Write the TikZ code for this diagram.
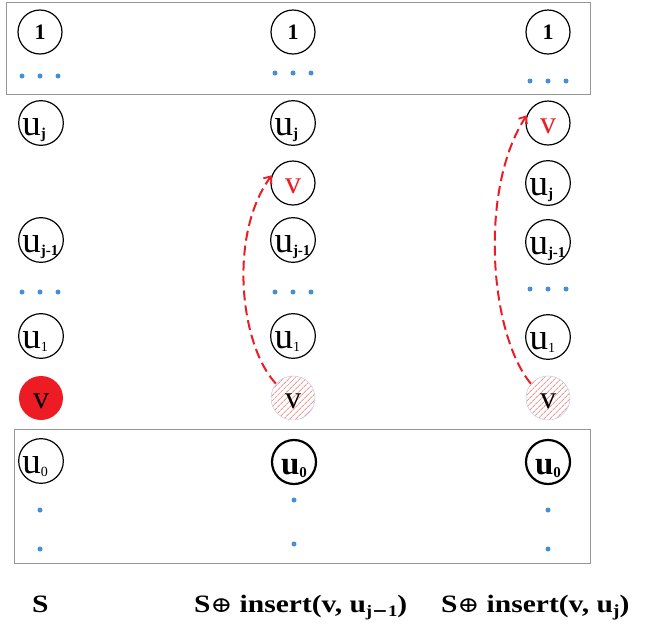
\documentclass[tikz,border=0pt]{standalone}
\usepackage{graphicx}
\usepackage{fontspec}
\setmainfont{Liberation Serif}
\newfontfamily\symfont{DejaVu Serif}
\usetikzlibrary{arrows.meta,patterns.meta}

\definecolor{boxgray}{RGB}{150,150,150}
\definecolor{dotblue}{RGB}{72,142,214}
\definecolor{vred}{RGB}{237,28,36}
\definecolor{hatchpink}{RGB}{245,150,150}
\definecolor{hatchrim}{RGB}{200,210,230}

% vertex labels: big u with a small subscript
\newcommand{\uname}[1]{\makebox[37pt][l]{{\fontsize{37}{37}\selectfont u}\raisebox{-3pt}{\fontsize{15}{15}\selectfont\bfseries #1}}}
\newcommand{\ulight}[1]{\makebox[37pt][l]{{\fontsize{37}{37}\selectfont u}\raisebox{-3pt}{\fontsize{14}{14}\selectfont #1}}}
\newcommand{\ubold}[1]{{\fontsize{33}{33}\selectfont\bfseries u}\raisebox{-3pt}{\fontsize{15}{15}\selectfont\bfseries #1}}
\newcommand{\vname}{{\fontsize{32}{32}\selectfont v}}
\newcommand{\onename}{{\fontsize{22}{22}\selectfont\bfseries 1}}
% caption text, set a little wider than the font's natural shape
\newcommand{\captext}[1]{\scalebox{1.18}[1]{#1}}

\tikzset{
  vtx/.style={circle, draw=black, line width=1.2pt, minimum size=44pt, inner sep=0pt},
  utext/.style={text height=25pt, text depth=0pt},
  vtext/.style={text height=21pt, text depth=0pt},
  vtxbold/.style={vtx, line width=2.2pt},
  vtxfilled/.style={circle, fill=vred, minimum size=44pt, inner sep=0pt},
  vtxhatch/.style={circle, draw=hatchrim, line width=0.6pt, minimum size=44pt, inner sep=0pt,
    pattern={Lines[angle=45, distance=4pt, line width=1pt]}, pattern color=hatchpink},
  frame/.style={draw=boxgray, line width=1pt},
  bdot/.style={circle, fill=dotblue, minimum size=5pt, inner sep=0pt},
  move/.style={draw=vred, line width=2pt, dash pattern=on 10pt off 5pt,
    -{Straight Barb[length=6pt, width=10pt, line width=1.8pt]}},
  caption/.style={anchor=base west, font=\fontsize{25}{25}\selectfont\bfseries, inner sep=0pt}
}

\begin{document}
\begin{tikzpicture}[x=1pt, y=-1pt]
\useasboundingbox (0,0) rectangle (646,625);

% frames around the top and bottom parts
\draw[frame] (6,2) rectangle (590,94);
\draw[frame] (14,429) rectangle (590,563);

% ---- column S ----
\node[vtx] (a1) at (40,32) {\onename};
\node[vtx, utext] (auj) at (41,123) {\uname{j}};
\node[vtx, utext] (aujm) at (41,240) {\uname{j-1}};
\node[vtx, utext] (au1) at (41,336) {\ulight{1}};
\node[vtxfilled, vtext] (av) at (41,398) {\vname};
\node[vtx, utext] (au0) at (41,461) {\ulight{0}};

% ---- column S + insert(v, u_{j-1}) ----
\node[vtx] (b1) at (293,32) {\onename};
\node[vtx, utext] (buj) at (293,123) {\uname{j}};
\node[vtx, vtext] (bvt) at (293,183) {\textcolor{vred}{\vname}};
\node[vtx, utext] (bujm) at (293,240) {\uname{j-1}};
\node[vtx, utext] (bu1) at (293,336) {\ulight{1}};
\node[vtxhatch, vtext] (bvb) at (293,398) {\vname};
\node[vtxbold, utext] (bu0) at (294,462) {\ubold{0}};

% ---- column S + insert(v, u_j) ----
\node[vtx] (c1) at (548,32) {\onename};
\node[vtx, vtext] (cvt) at (548,123) {\textcolor{vred}{\vname}};
\node[vtx, utext] (cuj) at (548,183) {\uname{j}};
\node[vtx, utext] (cujm) at (548,242) {\uname{j-1}};
\node[vtx, utext] (cu1) at (548,337) {\ulight{1}};
\node[vtxhatch, vtext] (cvb) at (548,398) {\vname};
\node[vtxbold, utext] (cu0) at (548,462) {\ubold{0}};

% ellipsis dots
\foreach \x/\y/\n in {40/76/a, 293/73/b, 548/81/c, 40/292/d, 293/292/e, 548/289/f}{
  \node[bdot] (\n l) at (\x-18,\y) {};
  \node[bdot] (\n m) at (\x,\y) {};
  \node[bdot] (\n r) at (\x+18,\y) {};
}
\node[bdot] (ad1) at (40,510) {};
\node[bdot] (ad2) at (40,549) {};
\node[bdot] (bd1) at (294,500) {};
\node[bdot] (bd2) at (294,544) {};
\node[bdot] (cd1) at (548,510) {};
\node[bdot] (cd2) at (548,549) {};

% moves of v
\draw[move] (bvb.140) .. controls (240,345) and (228,235) .. (bvt.160);
\draw[move] (cvb.140) .. controls (490,335) and (478,190) .. (cvt.160);

% captions
\node[caption] (capa) at (32,612) {\captext{S}};
\node[caption] (capb) at (194,612) {\captext{S{\symfont\fontsize{22}{22}\selectfont\mdseries ⊕} insert(v, u\raisebox{-4pt}{\fontsize{16}{16}\selectfont j{\symfont −}1})}};
\node[caption] (capc) at (441,612) {\captext{S{\symfont\fontsize{22}{22}\selectfont\mdseries ⊕} insert(v, u\raisebox{-4pt}{\fontsize{17}{17}\selectfont j})}};
\end{tikzpicture}
\end{document}
